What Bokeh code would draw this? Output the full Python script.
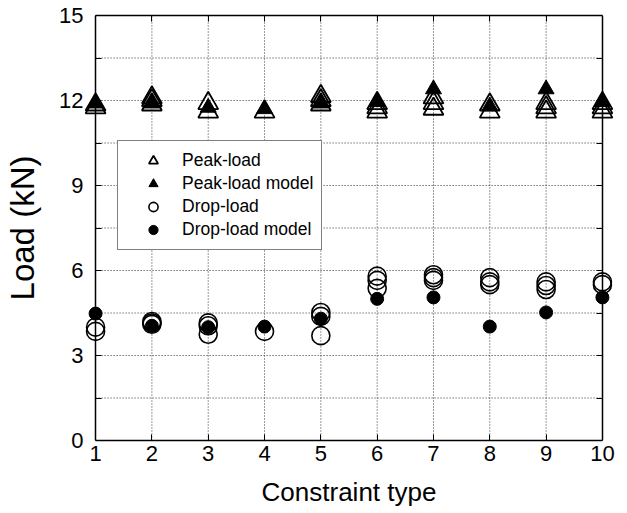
from bokeh.plotting import figure
from bokeh.models import Range1d, LinearAxis, FixedTicker, Legend, LegendItem
from bokeh.embed import file_html
from bokeh.resources import INLINE

# ---------------- data ----------------
constraint_types = [1, 2, 3, 4, 5, 6, 7, 8, 9, 10]
x_tick_labels = ["1", "2", "3", "4", "5", "6", "7", "8", "9", "10"]
y_ticks = [0, 3, 6, 9, 12, 15]
y_minor = [1.5, 4.5, 7.5, 10.5, 13.5]

# measured peak loads (several specimens per constraint type)
peak_load = [
    [11.75, 11.85],
    [11.85, 12.0, 12.1],
    [11.6, 11.9],
    [11.6],
    [11.85, 12.0, 12.15],
    [11.6, 11.75, 11.9],
    [11.7, 11.9, 12.1],
    [11.6, 11.85],
    [11.6, 11.75, 11.9],
    [11.6, 11.75, 11.9],
]
peak_load_model = [11.9, 11.9, 11.75, 11.7, 11.9, 11.95, 12.4, 11.8, 12.4, 11.95]

# measured drop loads
drop_load = [
    [3.85, 4.0],
    [4.1, 4.15, 4.2],
    [3.75, 4.05, 4.15],
    [3.85],
    [3.7, 4.38, 4.52],
    [5.37, 5.65, 5.8],
    [5.65, 5.75, 5.85],
    [5.5, 5.6, 5.75],
    [5.33, 5.47, 5.6],
    [5.5, 5.6],
]
drop_load_model = [4.48, 4.05, 4.0, 4.02, 4.3, 5.0, 5.05, 4.02, 4.52, 5.05]

legend_labels = ["Peak-load", "Peak-load model", "Drop-load", "Drop-load model"]


def flatten(groups):
    xs, ys = [], []
    for t, vals in zip(constraint_types, groups):
        for v in vals:
            xs.append(t)
            ys.append(v)
    return xs, ys


FONT = "Liberation Sans"

p = figure(width=627, height=513, output_backend="svg", toolbar_location=None,
           x_range=Range1d(0.75, 10.25), y_range=Range1d(0, 15),
           x_axis_location=None, y_axis_location=None,
           min_border_left=81, min_border_right=11, min_border_top=15, min_border_bottom=73)
p.outline_line_color = None
p.xgrid.visible = False
p.ygrid.visible = False
p.background_fill_color = "white"
p.border_fill_color = "white"

# grid lines (dotted), derived from tick values
gx = constraint_types[1:-1]
p.multi_line(xs=[[t, t] for t in gx], ys=[[y_ticks[0], y_ticks[-1]] for _ in gx],
             line_color="#333333", line_dash="1 2", line_width=1)
gy = sorted(y_ticks[1:-1] + y_minor)
p.multi_line(xs=[[constraint_types[0], constraint_types[-1]] for _ in gy], ys=[[v, v] for v in gy],
             line_color="#333333", line_dash="1 2", line_width=1)


def style_axis(ax):
    ax.axis_line_color = "black"
    ax.axis_line_width = 1.5
    ax.major_tick_in = 6
    ax.major_tick_out = 0
    ax.minor_tick_in = 6
    ax.minor_tick_out = 0
    ax.major_tick_line_color = "black"
    ax.minor_tick_line_color = "black"
    ax.major_label_text_font = FONT
    ax.major_label_text_font_size = "22px"
    ax.major_label_text_color = "black"
    ax.axis_label_text_font = FONT
    ax.axis_label_text_font_style = "normal"
    ax.axis_label_text_color = "black"


def hide_labels(ax):
    ax.major_label_text_font_size = "0px"
    ax.major_label_text_color = None


# bottom axis with labels
xb = LinearAxis(ticker=FixedTicker(ticks=constraint_types), bounds=(1, 10),
                axis_label="Constraint type")
xb.major_label_overrides = {t: lab for t, lab in zip(constraint_types, x_tick_labels)}
style_axis(xb)
xb.major_label_standoff = 5
xb.axis_label_text_font_size = "26px"
xb.axis_label_standoff = 13
p.add_layout(xb, "below")

# top axis: ticks only
xt = LinearAxis(ticker=FixedTicker(ticks=constraint_types), bounds=(1, 10))
style_axis(xt)
hide_labels(xt)
p.add_layout(xt, "above")

# left labels (no line, no ticks)
yl = LinearAxis(ticker=FixedTicker(ticks=y_ticks, minor_ticks=y_minor), axis_label="Load (kN)")
style_axis(yl)
yl.axis_line_color = None
yl.major_tick_line_color = None
yl.minor_tick_line_color = None
yl.major_tick_in = 0
yl.minor_tick_in = 0
yl.major_label_standoff = -2
yl.axis_label_text_font_size = "33px"
yl.axis_label_standoff = 15
p.add_layout(yl, "left")

# left frame line with inward ticks at x = 1
yl_line = LinearAxis(ticker=FixedTicker(ticks=y_ticks, minor_ticks=y_minor), fixed_location=1)
style_axis(yl_line)
hide_labels(yl_line)
yl_line.major_tick_in = 0
yl_line.minor_tick_in = 0
yl_line.major_tick_out = 6
yl_line.minor_tick_out = 6
p.add_layout(yl_line, "right")

# right frame line with inward ticks at x = 10
yr = LinearAxis(ticker=FixedTicker(ticks=y_ticks, minor_ticks=y_minor), fixed_location=10)
style_axis(yr)
hide_labels(yr)
p.add_layout(yr, "right")

# markers
px, py = flatten(peak_load)
dx, dy = flatten(drop_load)

r_peak = p.scatter(x=px, y=py, marker="triangle", size=20, fill_color=None,
                   line_color="black", line_width=1.8)
r_peak_m = p.scatter(x=constraint_types, y=peak_load_model, marker="triangle", size=16,
                     fill_color="black", line_color="black", line_width=1)
r_drop = p.scatter(x=dx, y=dy, marker="circle", size=18, fill_color=None,
                   line_color="black", line_width=1.6)
r_drop_m = p.scatter(x=constraint_types, y=drop_load_model, marker="circle", size=13,
                     fill_color="black", line_color="black", line_width=1)

legend = Legend(items=[LegendItem(label=legend_labels[0], renderers=[r_peak]),
                       LegendItem(label=legend_labels[1], renderers=[r_peak_m]),
                       LegendItem(label=legend_labels[2], renderers=[r_drop]),
                       LegendItem(label=legend_labels[3], renderers=[r_drop_m])],
                location=(36, 190), margin=0, padding=8, spacing=0,
                glyph_width=54, glyph_height=23, label_height=23, label_standoff=2,
                label_text_font=FONT, label_text_font_size="17.5px", label_text_color="black",
                border_line_color="black", border_line_width=1,
                background_fill_color="white", background_fill_alpha=1.0)
p.add_layout(legend, "center")

open("out.html", "w").write(file_html(p, INLINE))
